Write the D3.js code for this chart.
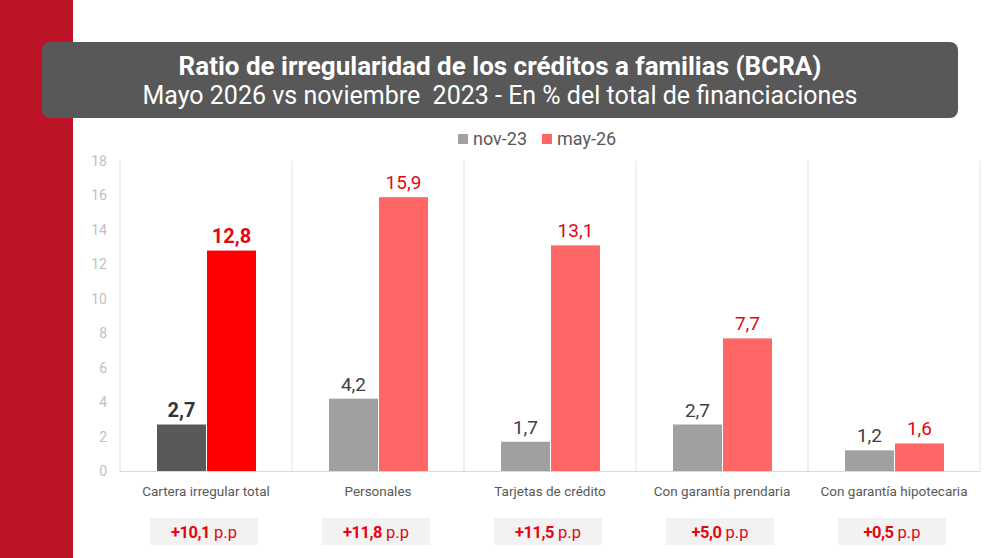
<!DOCTYPE html>
<html><head><meta charset="utf-8">
<script src="https://cdn.jsdelivr.net/npm/d3@7"></script>
<style>body{margin:0;background:#fff;} svg{display:block;font-family:Roboto, "Open Sans", sans-serif;}</style>
</head><body>
<svg id="c" width="1000" height="558"></svg>
<script>
const categories = ["Cartera irregular total","Personales","Tarjetas de crédito","Con garantía prendaria","Con garantía hipotecaria"];
const seriesNames = ["nov-23","may-26"];
const nov23 = [2.7,4.2,1.7,2.7,1.2];
const may26 = [12.8,15.9,13.1,7.7,1.6];
const deltas = ["+10,1","+11,8","+11,5","+5,0","+0,5"];
const yTicks = [0,2,4,6,8,10,12,14,16,18];
const fmt = v => d3.format(".1f")(v).replace(".", ",");

const svg = d3.select("#c");
svg.append("rect").attr("x",0).attr("y",0).attr("width",73).attr("height",558).attr("fill","#BE1428");
svg.append("rect").attr("x",42).attr("y",42).attr("width",916).attr("height",76).attr("rx",8).attr("fill","#585858");
svg.append("text").attr("x",500).attr("y",75).attr("text-anchor","middle").attr("fill","#fff")
  .attr("font-size",26).attr("font-weight","bold").text("Ratio de irregularidad de los créditos a familias (BCRA)");
svg.append("text").attr("x",500).attr("y",104).attr("text-anchor","middle").attr("fill","#fff")
  .attr("font-size",25).attr("xml:space","preserve").text("Mayo 2026 vs noviembre  2023 - En % del total de financiaciones");

const x = d3.scaleBand().domain(categories).range([120,980]);
const y = d3.scaleLinear().domain([0,18]).range([471,161]);

svg.append("g").selectAll("text").data(yTicks).join("text")
  .attr("x",107).attr("y",d=>y(d)+5).attr("text-anchor","end").attr("font-size",14).attr("fill","#BFBFBF").text(d=>d);

const bounds = [120].concat(categories.map(c=>x(c)+x.bandwidth()));
svg.append("g").selectAll("line").data(bounds).join("line")
  .attr("x1",d=>d).attr("x2",d=>d).attr("y1",y(18)).attr("y2",y(0)).attr("stroke","#E3E3E3").attr("stroke-width",1);
svg.append("line").attr("x1",120).attr("x2",980).attr("y1",y(0)+0.5).attr("y2",y(0)+0.5).attr("stroke","#D9D9D9");

const bw = 49;
const cx = c => x(c)+x.bandwidth()/2;

const g = svg.append("g");
categories.forEach((c,i)=>{
  const first = i===0;
  const vals = [nov23[i], may26[i]];
  vals.forEach((v,j)=>{
    const bx = j===0 ? cx(c)-49 : cx(c)+1;
    const fill = first ? (j===0?"#595959":"#FF0000") : (j===0?"#A0A0A0":"#FF6666");
    g.append("rect").attr("x",bx).attr("y",y(v)).attr("width",bw).attr("height",y(0)-y(v)).attr("fill",fill);
    g.append("text").attr("x",bx+bw/2).attr("y",y(v)-8).attr("text-anchor","middle")
      .attr("font-size",first?20:19).attr("font-weight",first?"bold":"normal")
      .attr("fill", j===0 ? (first?"#333":"#404040") : "#E30613").text(fmt(v));
  });
  g.append("text").attr("x",cx(c)).attr("y",496).attr("text-anchor","middle").attr("font-size",13.5).attr("fill","#595959").text(c);
  g.append("rect").attr("x",cx(c)-56).attr("y",518).attr("width",108).attr("height",27).attr("fill","#F2F2F2");
  const t = g.append("text").attr("x",cx(c)-2).attr("y",538).attr("text-anchor","middle").attr("font-size",16.5).attr("fill","#E30613");
  t.append("tspan").attr("font-weight","bold").attr("letter-spacing","-0.5").text(deltas[i]);
  t.append("tspan").attr("dx",4).text("p.p");
});

const leg = svg.append("g");
const legItems = [{n:"nov-23",c:"#A0A0A0",x:458},{n:"may-26",c:"#FF6666",x:542}];
legItems.forEach(d=>{
  leg.append("rect").attr("x",d.x).attr("y",134).attr("width",10).attr("height",10).attr("fill",d.c);
  leg.append("text").attr("x",d.x+15).attr("y",145).attr("font-size",18).attr("fill","#595959").text(d.n);
});
</script>
</body></html>
